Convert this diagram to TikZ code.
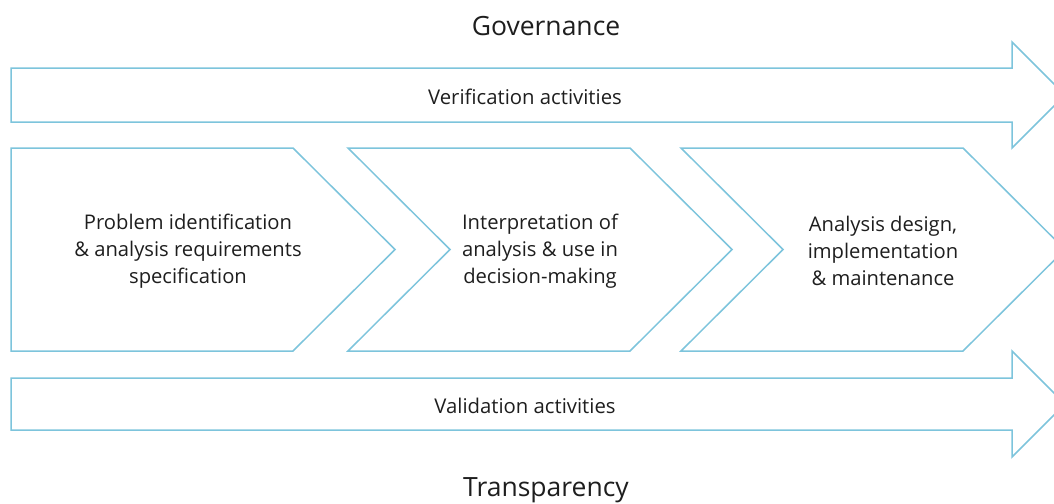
\documentclass[tikz,border=0pt]{standalone}
\usepackage{fontspec}
\setmainfont{Open Sans}
\definecolor{lineblue}{RGB}{125,196,220}
\definecolor{txt}{RGB}{30,30,30}
\tikzset{
  shapeline/.style={draw=lineblue, line width=1.5pt, line join=miter},
  bigtxt/.style={text=txt, font=\fontsize{26.5}{30}\selectfont, inner sep=0pt},
  bandtxt/.style={text=txt, font=\fontsize{20.3}{26}\selectfont, inner sep=0pt},
  chevtxt/.style={text=txt, font=\fontsize{20.2}{27}\selectfont, align=center, inner sep=0pt},
}
\begin{document}
\begin{tikzpicture}[x=1pt,y=-1pt]
\useasboundingbox (0,0) rectangle (1054,503);
\clip (0,0) rectangle (1054,503);
% top arrow
\draw[shapeline] (11,68) -- (1012,68) -- (1012,42) -- (1065,95) -- (1012,148) -- (1012,122) -- (11,122) -- cycle;
% bottom arrow
\draw[shapeline] (11,378) -- (1012,378) -- (1012,351) -- (1065,404) -- (1012,457) -- (1012,430) -- (11,430) -- cycle;
% chevrons
\draw[shapeline] (11,148) -- (293,148) -- (395,249.5) -- (293,351) -- (11,351) -- cycle;
\draw[shapeline] (348,148) -- (630,148) -- (732,249.5) -- (630,351) -- (348,351) -- (450,249.5) -- cycle;
\draw[shapeline] (681,148) -- (963,148) -- (1065,249.5) -- (963,351) -- (681,351) -- (783,249.5) -- cycle;
% texts
\node[bigtxt] (gov) at (546,26) {Governance};
\node[bigtxt] (trans) at (546,490) {Transparency};
\node[bandtxt] (verif) at (525,97) {Verification activities};
\node[bandtxt] (valid) at (525,406) {Validation activities};
\node[chevtxt] (c1) at (188,251) {Problem identification\\ \& analysis requirements\\ specification};
\node[chevtxt] (c2) at (540,251) {Interpretation of\\ analysis \& use in\\ decision-making};
\node[chevtxt] (c3) at (883,251) {Analysis design,\\ implementation\\ \& maintenance};
\end{tikzpicture}
\end{document}
